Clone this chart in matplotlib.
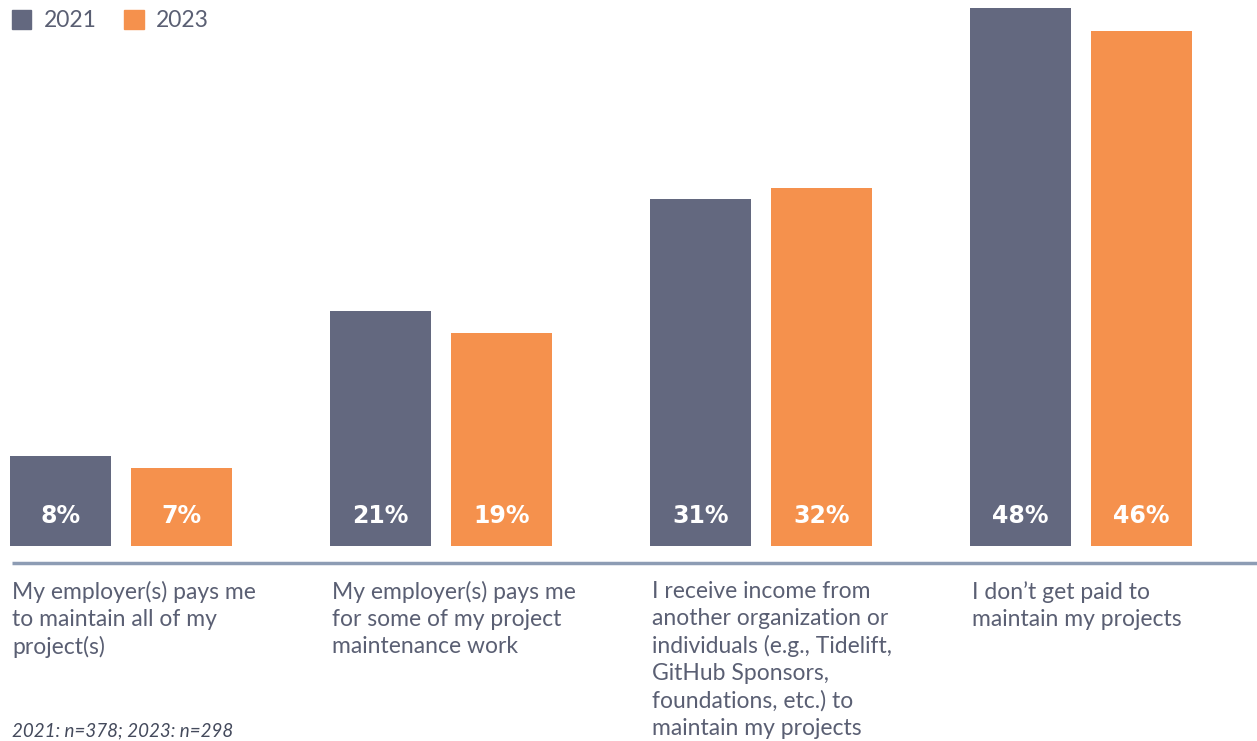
import matplotlib
matplotlib.use('Agg')
import matplotlib.pyplot as plt
from matplotlib.patches import Patch
import numpy as np

# survey answers (share of maintainers, %)
categories = [
    "My employer(s) pays me\nto maintain all of my\nproject(s)",
    "My employer(s) pays me\nfor some of my project\nmaintenance work",
    "I receive income from\nanother organization or\nindividuals (e.g., Tidelift,\nGitHub Sponsors,\nfoundations, etc.) to\nmaintain my projects",
    "I don\u2019t get paid to\nmaintain my projects",
]
share_2021 = [8, 21, 31, 48]
share_2023 = [7, 19, 32, 46]
years = ["2021", "2023"]
footnote = "2021: n=378; 2023: n=298"

C21 = '#63687f'
C23 = '#f5914d'
TXT = '#5a5f73'
RULE = '#8d9cb4'

W, H = 1257, 741
fig = plt.figure(figsize=(W/100, H/100), dpi=100)
ax = fig.add_axes([0, 0, 1, 1])

# layout in pixel terms: groups 320 px apart, bars 101 px wide, 11.2 px per %
gap = 320.0
bw = 101 / gap
off = 60.5 / gap
ppu = 11.2
base = 195  # baseline, px from bottom
ax.set_xlim(-121/gap, (W - 121)/gap)
ax.set_ylim(-base/ppu, (H - base)/ppu)
ax.axis('off')

x = np.arange(len(categories))
b1 = ax.bar(x - off, share_2021, bw, color=C21, linewidth=0)
b2 = ax.bar(x + off, share_2023, bw, color=C23, linewidth=0)

for bars, vals in ((b1, share_2021), (b2, share_2023)):
    for r, v in zip(bars, vals):
        ax.text(r.get_x() + r.get_width()/2, 30/ppu, f"{v}%",
                ha='center', va='center', color='white',
                fontsize=17, fontweight='bold', family='DejaVu Sans')

# rule under the bars
ax.plot([(12-121)/gap, (W-121)/gap], [-17/ppu, -17/ppu],
        color=RULE, lw=2.5, solid_capstyle='butt', clip_on=False)

# category labels, left-aligned with the first bar of each group
for xi, lab in zip(x, categories):
    ax.text(xi - off - bw/2 + 2/gap, -35/ppu, lab, ha='left', va='top',
            color=TXT, fontsize=16.5, family='Lato', linespacing=1.35)

ax.text((12-121)/gap, (5 - base)/ppu, footnote,
        ha='left', va='baseline', color='#444a5c', fontsize=13.5,
        style='italic', family='Lato')

handles = [Patch(color=C21, label=years[0]), Patch(color=C23, label=years[1])]
fig.legend(handles=handles, loc='upper left', bbox_to_anchor=(-0.007, 1.014),
           ncol=2, frameon=False, handlelength=0.85,
           handleheight=0.85, handletextpad=0.55, columnspacing=1.2,
           labelcolor=TXT, prop={'family': 'Lato', 'size': 16.5})

fig.savefig('out.png', dpi=100, facecolor='white')
